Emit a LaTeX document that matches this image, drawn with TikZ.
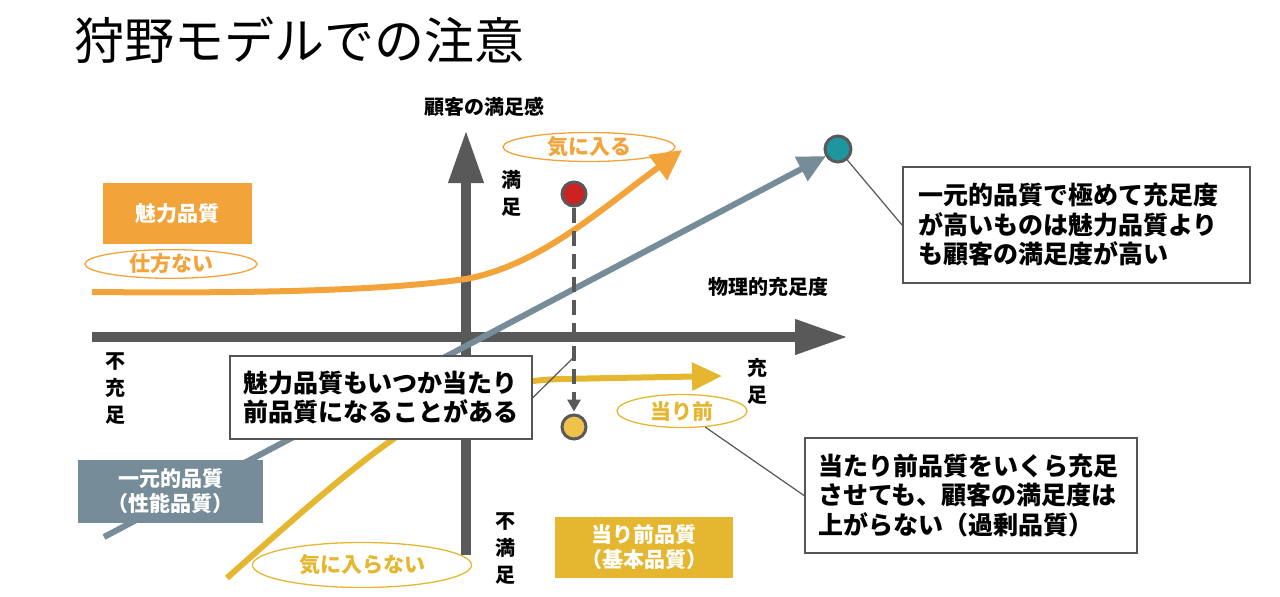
\documentclass[tikz,border=0pt]{standalone}
\usepackage{fontspec}
\setmainfont{Noto Sans CJK JP}
\usetikzlibrary{arrows.meta,shapes.geometric}
\definecolor{orng}{HTML}{F2A33A}
\definecolor{yelw}{HTML}{E5B731}
\definecolor{slate}{HTML}{768C98}
\definecolor{axisgray}{HTML}{595959}
\definecolor{redc}{HTML}{CC2222}
\definecolor{tealc}{HTML}{1E96A0}
\definecolor{yelc}{HTML}{F0C24A}
\definecolor{boxline}{HTML}{555555}
\tikzset{
  lbl/.style={font=\bfseries\fontsize{20}{27}\selectfont, align=center, inner sep=0pt},
  qbox/.style={fill=#1, text=white, font=\bfseries\fontsize{21}{25}\selectfont, align=center, inner sep=0pt},
  oval/.style={ellipse, draw=#1, line width=1.3pt, text=#1, font=\bfseries\fontsize{21}{25}\selectfont, inner sep=0pt},
  callout/.style={draw=boxline, line width=2pt, fill=white, font=\bfseries\fontsize{25}{29.5}\selectfont, align=left, inner ysep=0pt},
  axisline/.style={draw=axisgray, line width=10pt, -{Triangle[width=33pt,length=53pt]}},
  dot/.style={circle, fill=#1, draw=axisgray, line width=3pt, inner sep=0pt},
  thin/.style={draw=boxline, line width=1.2pt}
}
\begin{document}
\begin{tikzpicture}[x=1pt,y=-1pt]
\useasboundingbox (0,0) rectangle (1280,597);
% title
\node[anchor=west, inner sep=0pt, font=\fontsize{50}{58}\selectfont] (title) at (74,40) {狩野モデルでの注意};
% axes
\coordinate (yb) at (466,555);
\coordinate (yt) at (466,130);
\coordinate (xl) at (92,337);
\coordinate (xr) at (848,337);
\draw[axisline] (yb) -- (yt);
\draw[axisline] (xl) -- (xr);
% axis labels
\node[lbl] (ylab) at (484,107) {顧客の満足感};
\node[lbl] (xlab) at (768,287) {物理的充足度};
\node[lbl] (sat) at (511,193) {満\\足};
\node[lbl] (unsat) at (505,548) {不\\満\\足};
\node[lbl] (insuf) at (115,388) {不\\充\\足};
\node[lbl] (suf) at (757,381) {充\\足};
% orange curve (attractive)
\draw[orng, line width=6pt, -{Triangle[width=30pt,length=30pt]}]
  (92,292) .. controls (300,294) and (400,288) .. (466,279)
  .. controls (540,265) and (600,210) .. (682,150);
% slate line (one-dimensional)
\coordinate (slst) at (104,537);
\node[dot=tealc, minimum size=26pt] (teal) at (838,149) {};
\draw[slate, line width=6pt, -{Triangle[width=26pt,length=28pt]}] (slst) -- (826,156);
% yellow curve (must-be)
\draw[yelw, line width=6pt, -{Triangle[width=27pt,length=30pt]}]
  (227,578) .. controls (390,433) and (450,383) .. (560,379) -- (722,376);
% boxes
\node[qbox=orng, minimum width=149pt, minimum height=61pt] (miryoku) at (177.5,213) {魅力品質};
\node[qbox=slate, minimum width=185pt, minimum height=63pt] (ichigen) at (170.5,491.5) {一元的品質\\（性能品質）};
\node[qbox=yelw, minimum width=178pt, minimum height=61pt] (atarimae) at (644,547.5) {当り前品質\\（基本品質）};
% ovals
\node[oval=orng, minimum width=172pt, minimum height=28pt] (shikata) at (171,264) {仕方ない};
\node[oval=orng, minimum width=172pt, minimum height=29pt] (kiniiru) at (589,147) {気に入る};
\node[oval=yelw, minimum width=219pt, minimum height=45pt] (kiniiranai) at (362,565) {気に入らない};
\node[oval=yelw, minimum width=130pt, minimum height=33pt] (atari) at (682,411) {当り前};
% dots and dashed arrow
\node[dot=redc, minimum size=24pt] (red) at (574,194) {};
\node[dot=yelc, minimum size=24pt] (yel) at (574,427) {};
\draw[axisgray, line width=3.5pt, dash pattern=on 15pt off 8pt, shorten >=2pt, -{Triangle[width=13pt,length=12pt]}] (red) -- (yel);
\coordinate (dashpt) at (574,357);
% callouts
\node[callout, text width=317pt, inner xsep=15pt, minimum height=116pt] (c1) at (1076.5,225)
  {一元的品質で極めて充足度\\が高いものは魅力品質より\\も顧客の満足度が高い};
\node[callout, text width=276pt, inner xsep=13pt, minimum height=83pt] (c2) at (381,397.5)
  {魅力品質もいつか当たり\\前品質になることがある};
\node[callout, text width=306pt, inner xsep=13pt, minimum height=115pt] (c3) at (971,495.5)
  {当たり前品質をいくら充足\\させても、顧客の満足度は\\上がらない（過剰品質）};
% connectors
\draw[thin] (teal) -- (c1.west);
\draw[thin] (c2.east) -- (dashpt);
\draw[thin] (atari) -- (c3.west);
\end{tikzpicture}
\end{document}
